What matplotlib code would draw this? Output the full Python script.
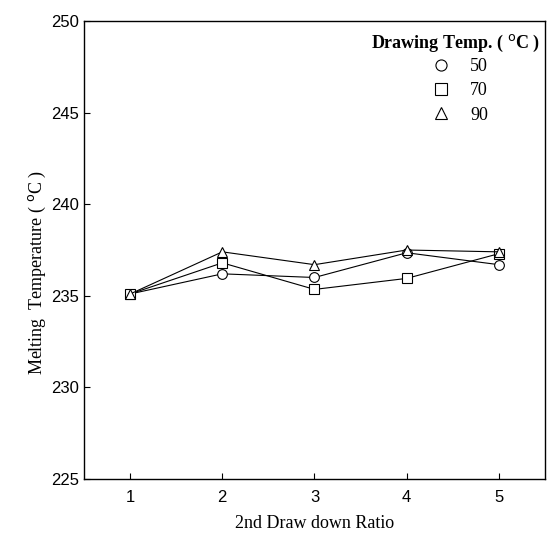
import matplotlib
matplotlib.use('Agg')
import matplotlib.pyplot as plt
from matplotlib.lines import Line2D

# data
ratio = [1, 2, 3, 4, 5]
tm_50 = [235.1, 236.2, 236.0, 237.35, 236.7]
tm_70 = [235.1, 236.8, 235.35, 235.95, 237.3]
tm_90 = [235.1, 237.4, 236.7, 237.5, 237.4]
temps = ['50', '70', '90']
markers = ['o', 's', '^']

fig = plt.figure(figsize=(5.47, 5.39), dpi=100)
ax = fig.add_axes([0.1536, 0.1113, 0.8427, 0.8497])

for vals, m in zip([tm_50, tm_70, tm_90], markers):
    ax.plot(ratio, vals, color='black', lw=0.8, marker=m, ms=7,
            mfc='white', mec='black', mew=0.8)

ax.set_xlim(0.5, 5.5)
ax.set_ylim(225, 250)
ax.set_xticks(ratio)
ax.set_yticks([225, 230, 235, 240, 245, 250])
ax.tick_params(direction='in', length=4, width=0.8, labelsize=12,
               top=False, right=False)
for lab in ax.get_xticklabels() + ax.get_yticklabels():
    lab.set_family('Liberation Sans')
ax.xaxis.set_tick_params(pad=8)

for s in ax.spines.values():
    s.set_linewidth(1.0)

ax.set_xlabel('2nd Draw down Ratio', family='Liberation Serif', fontsize=13)
ax.xaxis.set_label_coords(0.5, -0.078)
ax.set_ylabel('Melting  Temperature ( $^{\\rm o}$C )', family='Liberation Serif',
              fontsize=13)
ax.yaxis.set_label_coords(-0.078, 0.45)

handles = [Line2D([], [], ls='none', marker=m, ms=8, mfc='white', mec='black', mew=0.8)
           for m in markers]
leg = ax.legend(handles, temps, loc='upper right', frameon=False,
                title='Drawing Temp. ( $^{\\rm o}$C )',
                prop={'family': 'Liberation Serif', 'size': 13},
                title_fontproperties={'family': 'Liberation Serif', 'size': 13, 'weight': 'bold'},
                handletextpad=0.6, labelspacing=0.4, borderaxespad=0.0,
                bbox_to_anchor=(1.005, 0.99))
leg._legend_box.align = 'center'
leg._legend_box.sep = 3

fig.savefig('out.png', dpi=100)
